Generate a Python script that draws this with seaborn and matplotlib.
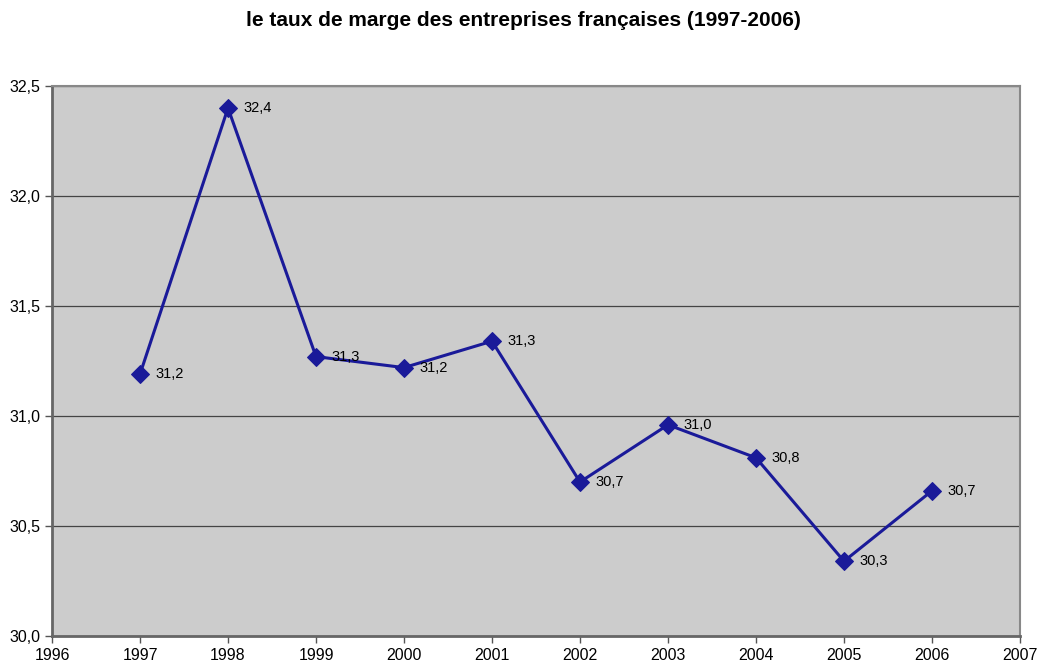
import matplotlib
matplotlib.use("Agg")
import matplotlib.pyplot as plt
import seaborn as sns
import pandas as pd
from matplotlib.ticker import FuncFormatter, MultipleLocator

years = [1997, 1998, 1999, 2000, 2001, 2002, 2003, 2004, 2005, 2006]
taux = [31.19, 32.40, 31.27, 31.22, 31.34, 30.70, 30.96, 30.81, 30.34, 30.66]
title = "le taux de marge des entreprises françaises (1997-2006)"

sns.set_theme(style="white")
plt.rcParams['font.family'] = ['Liberation Sans', 'DejaVu Sans']
plt.rcParams['text.color'] = 'black'
plt.rcParams['xtick.color'] = 'black'
plt.rcParams['ytick.color'] = 'black'

df = pd.DataFrame({"annee": years, "taux": taux})

fig = plt.figure(figsize=(10.39, 6.65), dpi=100)
ax = fig.add_axes([52/1039, 1-636/665, (1020-52)/1039, (636-86)/665])
ax.set_facecolor("#cccccc")

sns.lineplot(data=df, x="annee", y="taux", ax=ax, color="#1a1a99", linewidth=2.2,
             marker="D", markersize=9, markeredgecolor="#1a1a99", markerfacecolor="#1a1a99")

for x, y in zip(years, taux):
    ax.annotate(f"{y:.1f}".replace(".", ","), (x, y), xytext=(11, 0),
                textcoords="offset points", va="center", ha="left", fontsize=10.5, color="black")

ax.set_xlim(1996, 2007)
ax.set_ylim(30.0, 32.5)
ax.xaxis.set_major_locator(MultipleLocator(1))
ax.yaxis.set_major_locator(MultipleLocator(0.5))
ax.yaxis.set_major_formatter(FuncFormatter(lambda v, p: f"{v:.1f}".replace(".", ",")))
ax.xaxis.set_major_formatter(FuncFormatter(lambda v, p: f"{int(v)}"))
ax.grid(axis="y", color="#444444", linewidth=0.9)
ax.grid(axis="x", visible=False)
ax.set_axisbelow(True)
ax.set_xlabel("")
ax.set_ylabel("")
ax.tick_params(axis="both", which="major", labelsize=11.5, length=5, width=1, color="#555555",
               labelcolor="black", direction="out", bottom=True, left=True)
ax.tick_params(axis="x", pad=4)
for s in ["left", "bottom"]:
    ax.spines[s].set_color("#666666")
    ax.spines[s].set_linewidth(2)
for s in ["top", "right"]:
    ax.spines[s].set_color("#888888")
    ax.spines[s].set_linewidth(1.5)

fig.text(523/1039, 1-20/665, title, ha="center", va="center", fontsize=15, fontweight="bold",
         color="black")

fig.savefig("out.png", dpi=100)
